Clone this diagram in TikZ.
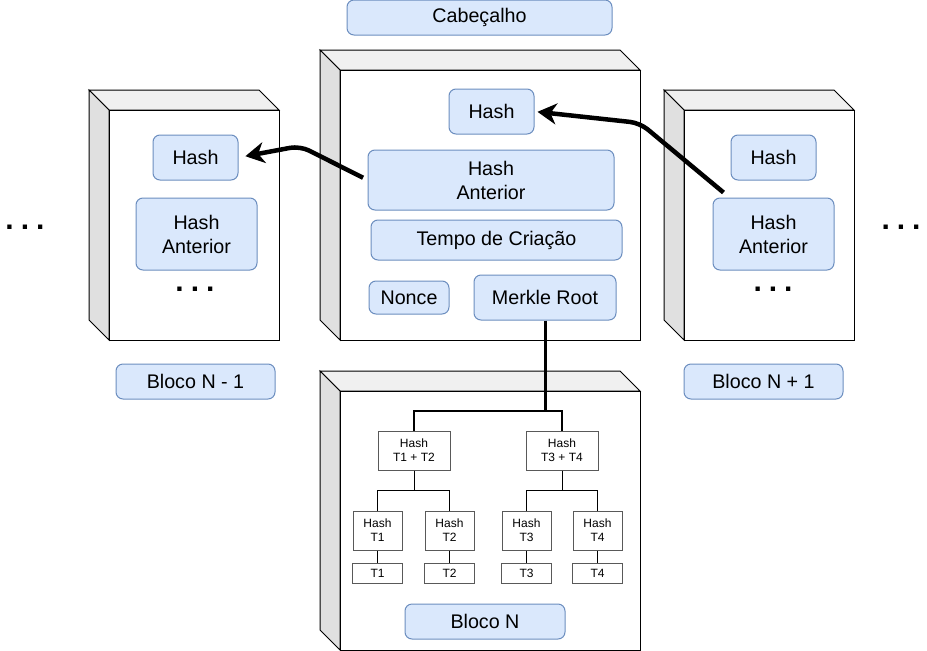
\documentclass[tikz,border=0pt]{standalone}
\usepackage{fontspec}
\setmainfont{Liberation Sans}
\usetikzlibrary{arrows.meta}
\definecolor{boxfill}{HTML}{DAE8FC}
\definecolor{boxline}{HTML}{6C8EBF}
\begin{document}
\begin{tikzpicture}[x=1pt, y=-1pt, line width=1pt,
    blk/.style={draw=boxline, fill=boxfill, rounded corners=7pt, align=center, inner sep=0pt, font=\fontsize{19.7}{24}\selectfont},
    tx/.style={draw=black!65, fill=white, align=center, inner sep=0pt, font=\fontsize{12}{14}\selectfont},
    link/.style={line width=4.5pt, rounded corners=10pt, -{Stealth[length=19pt,width=21pt,inset=6pt]}},
    dots/.style={font=\fontsize{30}{30}\selectfont\bfseries}]
    \useasboundingbox (0,0) rectangle (927,651);
    % blocks
    \foreach \x/\y/\w/\h in {320/50/300/270, 89/90/170/230, 664/90/170/230, 320/371/300/259}{
        \filldraw[fill=black!6] (\x,\y) -- (\x+\w,\y) -- (\x+\w+20,\y+20) -- (\x+20,\y+20) -- cycle;
        \filldraw[fill=black!12] (\x,\y) -- (\x+20,\y+20) -- (\x+20,\y+\h+20) -- (\x,\y+\h) -- cycle;
        \filldraw[fill=white] (\x+20,\y+20) rectangle (\x+\w+20,\y+\h+20);}
    \node[blk, minimum width=265pt, minimum height=35pt] (cab) at (479.5,17.5) {Cabeçalho};
    \node[blk, minimum width=85pt, minimum height=45pt] (h) at (491.5,111.5) {Hash};
    \node[blk, minimum width=246pt, minimum height=60pt] (ha) at (491,180) {Hash\\Anterior};
    \node[blk, minimum width=251pt, minimum height=40pt] (tc) at (496.5,240) {Tempo de Criação};
    \node[blk, minimum width=80pt, minimum height=33pt] (nonce) at (409,297.5) {Nonce};
    \node[blk, minimum width=142pt, minimum height=45pt] (mr) at (545,297.5) {Merkle Root};
    \node[blk, minimum width=85pt, minimum height=45pt] (lh) at (195.5,157.5) {Hash};
    \node[blk, minimum width=121pt, minimum height=72pt] (lha) at (196.5,234) {Hash\\Anterior};
    \node[blk, minimum width=159pt, minimum height=35pt] (lbl) at (195.5,381.5) {Bloco N - 1};
    \node[blk, minimum width=85pt, minimum height=45pt] (rh) at (773.5,157.5) {Hash};
    \node[blk, minimum width=121pt, minimum height=72pt] (rha) at (773.5,234) {Hash\\Anterior};
    \node[blk, minimum width=159pt, minimum height=35pt] (rbl) at (763.5,381.5) {Bloco N + 1};
    \node[blk, minimum width=160pt, minimum height=35pt] (bn) at (485,621.5) {Bloco N};
    \node[dots] (ldots) at (195,289) {.\kern7pt.\kern7pt.};
    \node[dots] (rdots) at (773,289) {.\kern7pt.\kern7pt.};
    \node[dots] (lout) at (25,227) {.\kern7pt.\kern7pt.};
    \node[dots] (rout) at (901,227) {.\kern7pt.\kern7pt.};
    % merkle tree
    \node[tx, minimum width=72pt, minimum height=39pt] (t12) at (414,450.5) {Hash\\T1 + T2};
    \node[tx, minimum width=72pt, minimum height=39pt] (t34) at (562,450.5) {Hash\\T3 + T4};
    \foreach \i/\x in {1/377.5, 2/449.5, 3/526.5, 4/597.5}{
        \node[tx, minimum width=49pt, minimum height=39pt] (ht\i) at (\x,530.5) {Hash\\T\i};
        \node[tx, minimum width=50pt, minimum height=20pt] (t\i) at (\x,573) {T\i};}
    \draw[line width=3pt] (mr.south) -- ++(0,90) coordinate (mj);
    \draw[line width=2pt] (mj) -| (t12.north);
    \draw[line width=2pt] (mj) -| (t34.north);
    \foreach \p/\a/\b in {t12/ht1/ht2, t34/ht3/ht4}{
        \draw (\p.south) -- ++(0,20) -| (\a.north);
        \draw (\p.south) -- ++(0,20) -| (\b.north);}
    \foreach \i in {1,...,4}{
        \draw (ht\i) -- (t\i);}
    % links
    \draw[link, shorten <=5pt, shorten >=7pt] (ha.west) -- (300,146) -- (lh.east);
    \draw[link, shorten >=3pt] ([shift={(11,-5)}]rha.north west) -- (640,123) -- (h.east);
\end{tikzpicture}
\end{document}
